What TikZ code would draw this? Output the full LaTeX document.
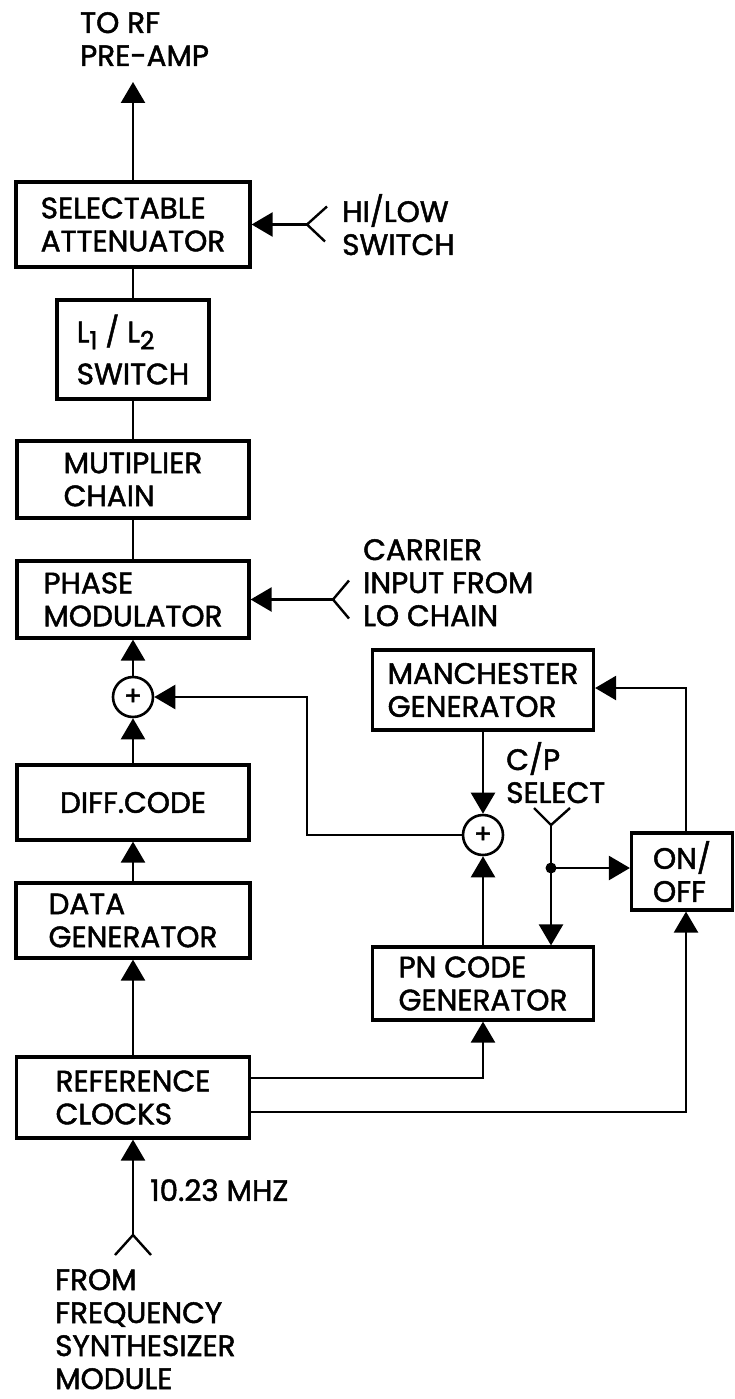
\documentclass[tikz,border=0pt]{standalone}
\usepackage{fontspec}
\setmainfont{Poppins}[FakeBold=1.6]
\usetikzlibrary{arrows.meta,calc}
\newcommand\dgfont{\fontsize{29.5}{33}\selectfont}
\newcommand\lsub[1]{\raisebox{-7pt}{\fontsize{25}{25}\selectfont #1}}
\begin{document}
\begin{tikzpicture}[x=1pt,y=-1pt,
  box/.style={draw,line width=3.2pt,inner sep=0pt,align=left,font=\dgfont},
  sum/.style={draw,circle,line width=2.6pt,minimum size=40pt,inner sep=0pt,font=\fontsize{26}{26}\selectfont},
  conn/.style={line width=2.4pt},
  arr/.style={conn,-{Triangle[length=21pt,width=24pt]}},
  lbl/.style={inner sep=0pt,align=left,anchor=north west,font=\dgfont}]
\useasboundingbox (0,0) rectangle (735,1399);
% boxes
\node[box,minimum width=234pt,minimum height=85pt] (att) at (133,224.5) {SELECTABLE\\ATTENUATOR};
\node[box,minimum width=152pt,minimum height=99pt] (sw) at (133,349.5) {L\lsub{1} / L\lsub{2}\\[9pt]SWITCH};
\node[box,minimum width=232pt,minimum height=77pt] (mult) at (133,479.5) {MUTIPLIER\\CHAIN};
\node[box,minimum width=232pt,minimum height=77pt] (phase) at (133,599.5) {PHASE\\MODULATOR};
\node[sum] (sum1) at (133,697) {+};
\node[box,minimum width=232pt,minimum height=75pt] (diff) at (133,802.5) {DIFF.CODE};
\node[box,minimum width=234pt,minimum height=75pt] (data) at (133,920.5) {DATA\\GENERATOR};
\node[box,minimum width=233pt,minimum height=81pt] (ref) at (133,1097.5) {REFERENCE\\CLOCKS};
\node[box,minimum width=221pt,minimum height=80pt] (manch) at (483,690) {MANCHESTER\\GENERATOR};
\node[sum] (sum2) at (483,835) {+};
\node[box,minimum width=221pt,minimum height=73pt] (pn) at (483,983.5) {PN CODE\\GENERATOR};
\node[box,minimum width=101pt,minimum height=77pt] (onoff) at (682,871.5) {ON/\\OFF};
% labels
\node[lbl] (torftxt) at (80,12) {TO RF\\PRE-AMP};
\node[lbl] (hltxt) at (342,194) {HI/LOW\\SWITCH};
\node[lbl] (cartxt) at (363,539) {CARRIER\\INPUT FROM\\LO CHAIN};
\node[lbl] (cptxt) at (506,742) {C/P\\SELECT};
\node[lbl] (mhz) at (150,1179) {10.23 MHZ};
\node[lbl] (fromtxt) at (55,1269) {FROM\\FREQUENCY\\SYNTHESIZER\\MODULE};
% coordinates
\coordinate (torf) at (133,82);
\coordinate (hlf) at (307,224.5);
\coordinate (crf) at (333,599.5);
\coordinate (bend) at (307,697);
\coordinate (cpf) at (551,825);
\coordinate (dot) at (551,868);
\coordinate (ofx) at (686,688);
\coordinate (r1) at (483,1078);
\coordinate (r2) at (686,1112);
\coordinate (bf) at (133,1235);
% connectors
\draw[arr] (att.north) -- (torf);
\draw[conn] ($(hlf)+(20,-18)$) -- (hlf) -- ($(hlf)+(18,17)$);
\draw[arr] (hlf) -- (att.east);
\draw[conn] (att.south) -- (sw.north);
\draw[conn] (sw.south) -- (mult.north);
\draw[conn] (mult.south) -- (phase.north);
\draw[conn] ($(crf)+(16,-19)$) -- (crf) -- ($(crf)+(16,19)$);
\draw[arr] (crf) -- (phase.east);
\draw[arr] (sum1.north) -- (phase.south);
\draw[arr] (diff.north) -- (sum1.south);
\draw[arr] (data.north) -- (diff.south);
\draw[arr] (ref.north) -- (data.south);
\draw[arr] (sum2.west) -| (bend) -- (sum1.east);
\draw[arr] (manch.south) -- (sum2.north);
\draw[arr] (pn.north) -- (sum2.south);
\draw[conn] ($(cpf)+(-17,-17)$) -- (cpf) -- ($(cpf)+(19,-17)$);
\draw[conn] (cpf) -- (dot);
\draw[arr] (dot) -- (dot |- pn.north);
\draw[arr] (dot) -- (dot -| onoff.west);
\fill (dot) circle (5.5);
\draw[arr] (onoff.north -| ofx) -- (ofx) -- (ofx -| manch.east);
\draw[arr] (ref.east |- r1) -- (r1) -- (pn.south);
\draw[arr] (ref.east |- r2) -- (r2) -- (r2 |- onoff.south);
\draw[conn] ($(bf)+(-18,20)$) -- (bf) -- ($(bf)+(18,20)$);
\draw[arr] (bf) -- (ref.south);
\end{tikzpicture}
\end{document}
